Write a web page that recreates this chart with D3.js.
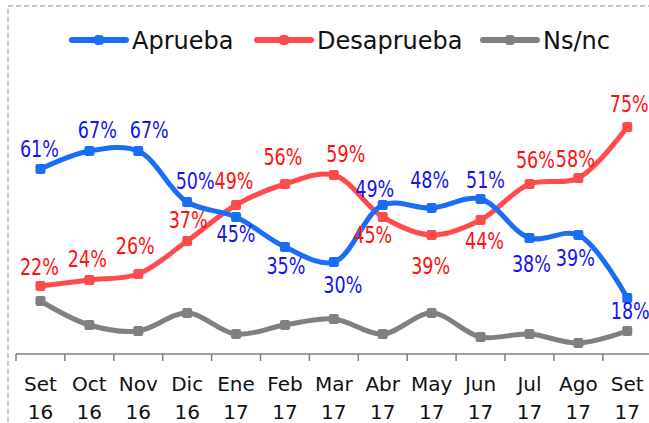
<!DOCTYPE html>
<html>
<head>
<meta charset="utf-8">
<script src="https://cdn.jsdelivr.net/npm/d3@7"></script>
<style>
  body { margin: 0; background: #fff; }
  svg { display: block; }
</style>
</head>
<body>
<div id="chart"></div>
<script>
// categories (two-line labels)
var months = ["Set", "Oct", "Nov", "Dic", "Ene", "Feb", "Mar", "Abr", "May", "Jun", "Jul", "Ago", "Set"];
var years  = ["16", "16", "16", "16", "17", "17", "17", "17", "17", "17", "17", "17", "17"];

// series values (%)
var aprueba     = [61, 67, 67, 50, 45, 35, 30, 49, 48, 51, 38, 39, 18];
var desaprueba  = [22, 24, 26, 37, 49, 56, 59, 45, 39, 44, 56, 58, 75];
var nsnc        = [17, 9, 7, 13, 6, 9, 11, 6, 13, 5, 6, 3, 7];

// label nudges (px) so they sit like the original
var aprLabelOff = [[-1,-12],[8,-13],[11,-13],[8,-13],[0,25],[1,27],[9,31],[-8,-8],[-2,-20],[5,-11],[2,34],[-3,31],[3,21]];
var desLabelOff = [[-1,-11],[-2,-13],[-3,-20],[1,-13],[-2,-16],[-2,-19],[12,-13],[-10,26],[-1,39],[4,29],[6,-16],[-3,-11],[2,-15]];

var W = 649, H = 423;
var svg = d3.select("#chart").append("svg")
    .attr("width", W)
    .attr("height", H);

// dashed frame
svg.append("rect")
    .attr("x", 8).attr("y", 6)
    .attr("width", 700).attr("height", 500)
    .attr("fill", "none")
    .attr("stroke", "#c8c8c8")
    .attr("stroke-width", 2)
    .attr("stroke-dasharray", "5,3");

var idx = d3.range(months.length);

var x = d3.scaleBand().domain(idx).range([16, 16 + 13 * 48.9]).padding(0);
var y = d3.scaleLinear().domain([0, 100]).range([352, 52]);

function cx(i) { return x(i) + x.bandwidth() / 2; }

// x axis line + boundary ticks
var axisY = 354;
svg.append("line")
    .attr("x1", 16).attr("x2", W)
    .attr("y1", axisY).attr("y2", axisY)
    .attr("stroke", "#7f7f7f").attr("stroke-width", 1.5);

svg.selectAll(".tick")
    .data(idx)
    .enter().append("line")
    .attr("x1", function (d) { return x(d); })
    .attr("x2", function (d) { return x(d); })
    .attr("y1", axisY).attr("y2", axisY + 7)
    .attr("stroke", "#7f7f7f").attr("stroke-width", 1.5);

var catLabels = svg.selectAll(".cat")
    .data(idx)
    .enter().append("text")
    .attr("text-anchor", "middle")
    .style("font-family", "DejaVu Sans")
    .style("font-size", "20px")
    .attr("fill", "#111");
catLabels.append("tspan")
    .attr("x", function (d) { return cx(d); })
    .attr("y", 391)
    .text(function (d) { return months[d]; });
catLabels.append("tspan")
    .attr("x", function (d) { return cx(d); })
    .attr("y", 419)
    .text(function (d) { return years[d]; });

var series = [
    {name: "Aprueba", values: aprueba, line: "#1a6ef5", text: "#1414ee", off: aprLabelOff},
    {name: "Desaprueba", values: desaprueba, line: "#ff4b4b", text: "#ff1010", off: desLabelOff},
    {name: "Ns/nc", values: nsnc, line: "#808080", text: null, off: null}
];

var line = d3.line()
    .x(function (d, i) { return cx(i); })
    .y(function (d) { return y(d); })
    .curve(d3.curveCatmullRom.alpha(0.5));

// draw gray first so blue/red sit on top
[series[2], series[1], series[0]].forEach(function (s) {
    svg.append("path")
        .datum(s.values)
        .attr("d", line)
        .attr("fill", "none")
        .attr("stroke", s.line)
        .attr("stroke-width", 5)
        .attr("stroke-linejoin", "round");

    svg.selectAll(null)
        .data(s.values)
        .enter().append("rect")
        .attr("x", function (d, i) { return cx(i) - 5; })
        .attr("y", function (d) { return y(d) - 5; })
        .attr("width", 10).attr("height", 10)
        .attr("rx", 2)
        .attr("fill", s.line);
});

// data labels
[series[0], series[1]].forEach(function (s) {
    svg.selectAll(null)
        .data(s.values)
        .enter().append("text")
        .attr("x", function (d, i) { return cx(i) + s.off[i][0]; })
        .attr("y", function (d, i) { return y(d) + s.off[i][1]; })
        .attr("text-anchor", "middle")
        .attr("textLength", 39)
        .attr("lengthAdjust", "spacingAndGlyphs")
        .style("font-family", "DejaVu Sans Condensed")
        .style("font-size", "23px")
        .attr("fill", s.text)
        .text(function (d) { return d + "%"; });
});

// legend
var legendX = [72, 257, 483];
var legend = svg.selectAll(".legend")
    .data(series)
    .enter().append("g")
    .attr("transform", function (d, i) { return "translate(" + legendX[i] + ",40)"; });

legend.append("line")
    .attr("x1", 0).attr("x2", 54)
    .attr("y1", 0).attr("y2", 0)
    .attr("stroke", function (d) { return d.line; })
    .attr("stroke-width", 6)
    .attr("stroke-linecap", "round");

legend.append("rect")
    .attr("x", 22).attr("y", -5)
    .attr("width", 10).attr("height", 10)
    .attr("rx", 4)
    .attr("fill", function (d) { return d.line; });

legend.append("text")
    .attr("x", 60)
    .attr("y", 9)
    .style("font-family", "DejaVu Sans")
    .style("font-size", "24px")
    .attr("fill", "#111")
    .text(function (d) { return d.name; });
</script>
</body>
</html>
